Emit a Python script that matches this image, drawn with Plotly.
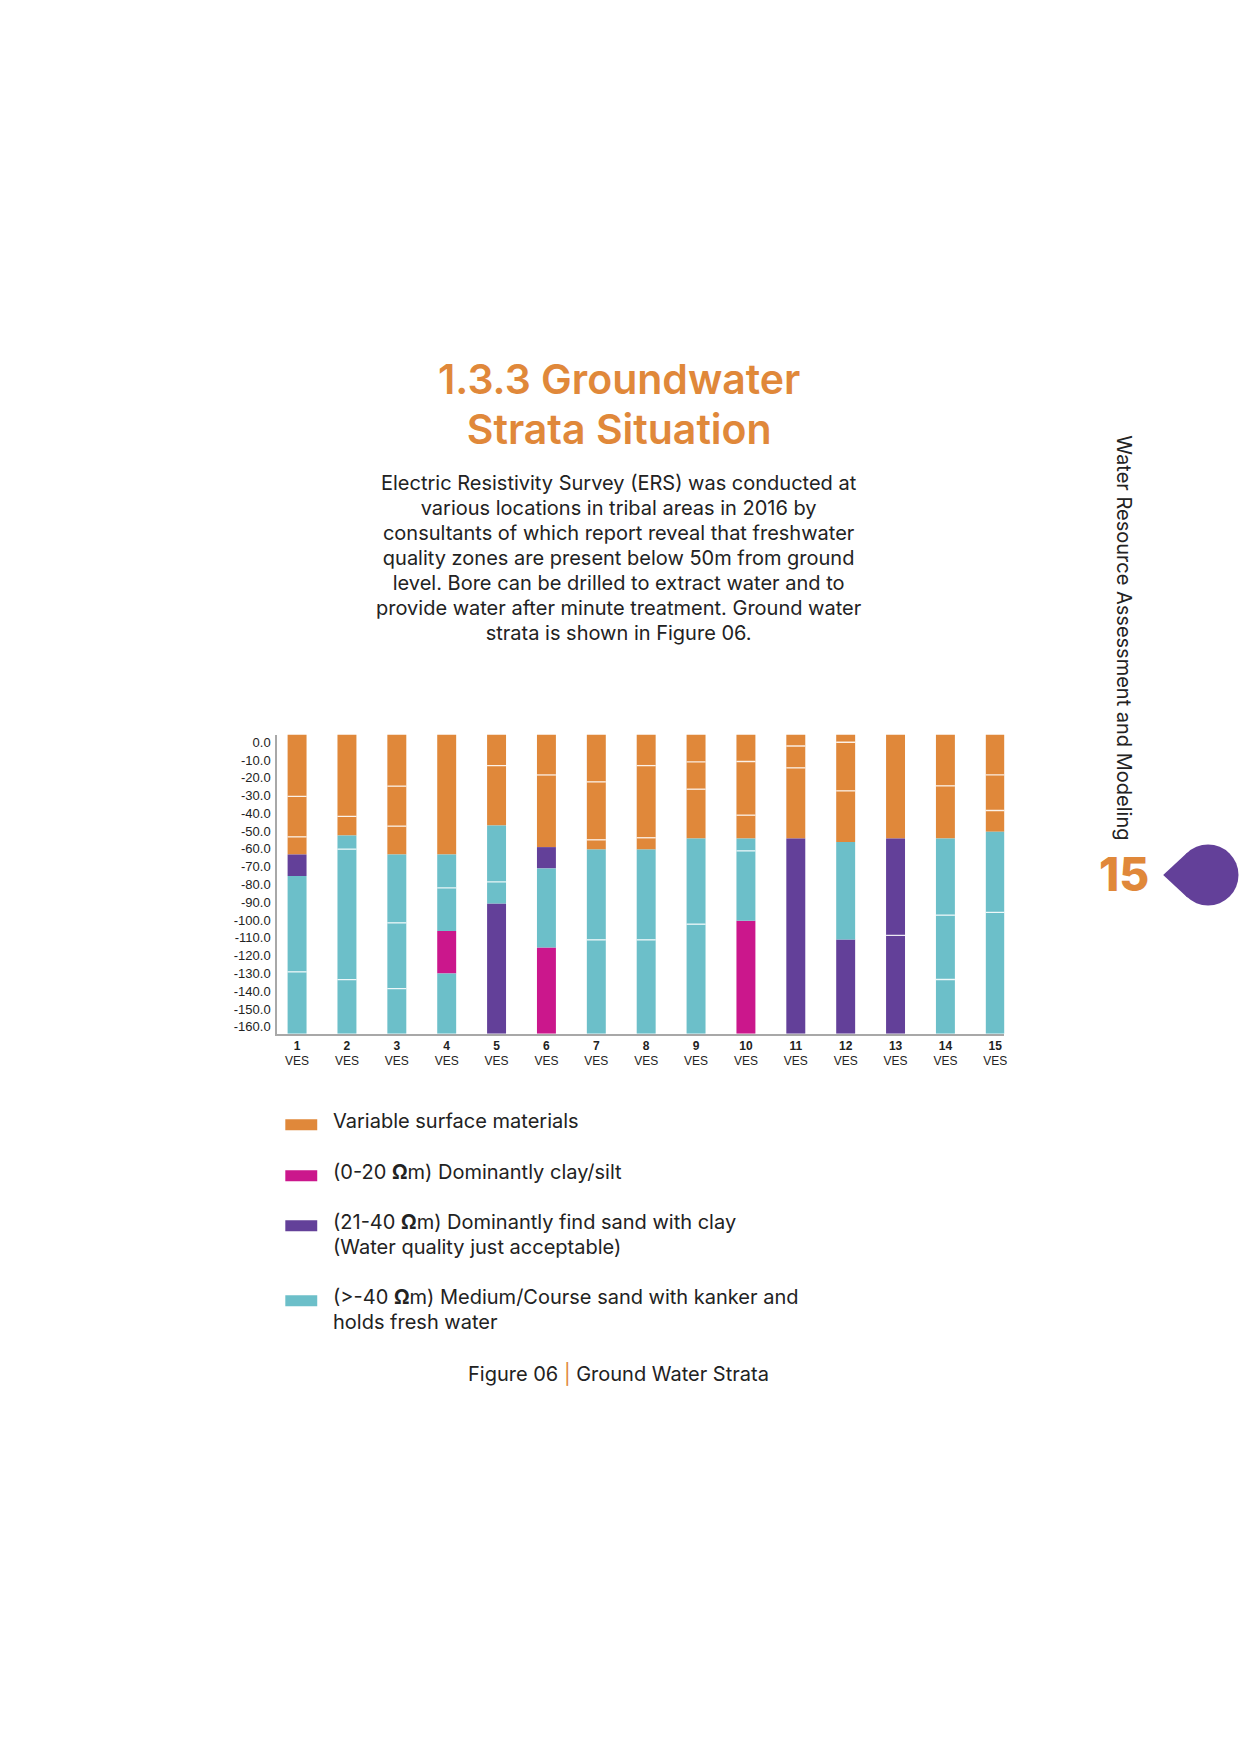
import plotly.graph_objects as go

W, H = 1241, 1754

# ---------------- data ----------------
ves_numbers = ["1", "2", "3", "4", "5", "6", "7", "8", "9", "10", "11", "12", "13", "14", "15"]
ves_suffix = "VES"

ytick_vals = [0, -10, -20, -30, -40, -50, -60, -70, -80, -90, -100, -110, -120, -130, -140, -150, -160]
ytick_text = ["0.0", "-10.0", "-20.0", "-30.0", "-40.0", "-50.0", "-60.0", "-70.0", "-80.0",
              "-90.0", "-100.0", "-110.0", "-120.0", "-130.0", "-140.0", "-150.0", "-160.0"]

# layer classes: S = surface, M = clay/silt, P = fine sand with clay, C = coarse sand fresh water
layer_classes = [
    ["S", "S", "S", "P", "C", "C"],
    ["S", "S", "C", "C", "C"],
    ["S", "S", "S", "C", "C", "C"],
    ["S", "C", "C", "M", "C"],
    ["S", "S", "C", "C", "P"],
    ["S", "S", "P", "C", "M"],
    ["S", "S", "S", "C", "C"],
    ["S", "S", "S", "C", "C"],
    ["S", "S", "S", "C", "C"],
    ["S", "S", "S", "C", "C", "M"],
    ["S", "S", "S", "P"],
    ["S", "S", "S", "C", "P"],
    ["S", "P", "P"],
    ["S", "S", "C", "C", "C"],
    ["S", "S", "S", "C", "C"],
]
layer_bottoms = [
    [-33.0, -54.7, -64.1, -75.7, -126.9, -160.0],
    [-43.8, -54.0, -61.3, -131.1, -160.0],
    [-27.6, -49.0, -64.1, -100.7, -135.9, -160.0],
    [-64.1, -82.0, -105.1, -127.8, -160.0],
    [-16.6, -48.6, -78.8, -90.3, -160.0],
    [-21.6, -60.2, -71.6, -113.9, -160.0],
    [-25.3, -56.3, -61.5, -109.8, -160.0],
    [-16.6, -55.2, -61.5, -109.8, -160.0],
    [-14.6, -29.2, -55.6, -101.4, -160.0],
    [-14.4, -43.1, -55.6, -62.2, -99.6, -160.0],
    [-6.1, -17.8, -55.6, -160.0],
    [-4.1, -30.1, -57.4, -109.6, -160.0],
    [-55.6, -107.4, -160.0],
    [-27.4, -55.6, -96.6, -131.0, -160.0],
    [-21.6, -40.6, -52.0, -95.1, -160.0],
]

class_order = ["S", "M", "P", "C"]
class_colors = {"S": "#E0883A", "M": "#CB178C", "P": "#634099", "C": "#6CBFC9"}
legend_lines = {
    "S": ["Variable surface materials"],
    "M": ["(0-20 <b>Ω</b>m) Dominantly clay/silt"],
    "P": ["(21-40 <b>Ω</b>m) Dominantly find sand with clay", "(Water quality just acceptable)"],
    "C": ["(>-40 <b>Ω</b>m) Medium/Course sand with kanker and", "holds fresh water"],
}

title_lines = ["1.3.3 Groundwater", "Strata Situation"]
para_lines = [
    "Electric Resistivity Survey (ERS) was conducted at",
    "various locations in tribal areas in 2016 by",
    "consultants of which report reveal that freshwater",
    "quality zones are present below 50m from ground",
    "level. Bore can be drilled to extract water and to",
    "provide water after minute treatment. Ground water",
    "strata is shown in Figure 06.",
]
side_text = "Water Resource Assessment and Modeling"
page_number = "15"
caption_left = "Figure 06"
caption_right = "Ground Water Strata"

ORANGE = "#E0883A"
TEXT = "#222222"
FONT = "Inter"
BAR_W = 0.38


def px(xp):
    return xp / W


def py(yp):
    return 1 - yp / H


def tight_lines(lines, size):
    # render lines at `size` px while the line pitch follows the annotation's base font size
    return "<br>".join(f"<span style='font-size:{size}px'>{ln}</span>" for ln in lines)


# ---------------- figure ----------------
fig = go.Figure()

for cls in class_order:
    xs, bases, heights = [], [], []
    for i, (classes, bottoms) in enumerate(zip(layer_classes, layer_bottoms)):
        top = 0.0
        for c, b in zip(classes, bottoms):
            if c == cls:
                xs.append(i)
                bases.append(top)
                heights.append(b - top)
            top = b
    fig.add_trace(go.Bar(x=xs, y=heights, base=bases, width=BAR_W,
                         marker=dict(color=class_colors[cls], line=dict(width=0)),
                         hoverinfo="skip", showlegend=False))

# thin white separators between consecutive layers of the same class
sx, sy = [], []
for i, (classes, bottoms) in enumerate(zip(layer_classes, layer_bottoms)):
    for k in range(len(classes) - 1):
        if classes[k] == classes[k + 1]:
            sx += [i - BAR_W / 2, i + BAR_W / 2, None]
            sy += [bottoms[k], bottoms[k], None]
fig.add_trace(go.Scatter(x=sx, y=sy, mode="lines",
                         line=dict(color="rgba(255,255,255,0.85)", width=1.3),
                         hoverinfo="skip", showlegend=False))

# dummy trace for tick-label axis
fig.add_trace(go.Scatter(x=[0], y=[0], yaxis="y2", mode="markers",
                         marker=dict(opacity=0), hoverinfo="skip", showlegend=False))

xt = [f"<b>{n}</b><br>{ves_suffix}" for n in ves_numbers]

fig.update_layout(
    width=W, height=H, margin=dict(l=0, r=0, t=0, b=0),
    paper_bgcolor="white", plot_bgcolor="white",
    barmode="overlay", showlegend=False,
    font=dict(family=FONT, color=TEXT),
    xaxis=dict(domain=[px(277.3), px(1006.7)], range=[-0.41, 14.18],
               tickvals=list(range(len(ves_numbers))), ticktext=xt,
               showline=True, linecolor="#a8a8a8", linewidth=1.5,
               showgrid=False, zeroline=False, ticks="",
               tickfont=dict(family="Liberation Sans", size=12, color=TEXT)),
    yaxis=dict(domain=[py(1034.3), py(735)], range=[-160, 0],
               showline=True, linecolor="#a8a8a8", linewidth=1.5,
               showticklabels=False, showgrid=False, zeroline=False, ticks=""),
    yaxis2=dict(overlaying="y", anchor="x", side="left", range=[-163.93, 4.31],
                tickvals=ytick_vals, ticktext=ytick_text,
                showline=False, showgrid=False, zeroline=False, ticks="",
                ticklabelstandoff=5,
                tickfont=dict(family="Liberation Sans", size=13, color=TEXT)),
)

annotations = []
shapes = []

# title (line pitch 50 px so the two line boxes do not collide)
TITLE_PITCH = 50
annotations.append(dict(text=tight_lines(title_lines, 41), x=px(620.5), y=py(404.5),
                        xref="paper", yref="paper", align="center",
                        xanchor="center", yanchor="middle", showarrow=False,
                        font=dict(family=FONT, size=TITLE_PITCH / 1.3, color=ORANGE, weight=600)))
# paragraph (line pitch 25 px)
n_para = len(para_lines)
annotations.append(dict(text=tight_lines(para_lines, 20), x=px(621), y=py(483.5 + 25 * (n_para - 1) / 2),
                        xref="paper", yref="paper", align="center",
                        xanchor="center", yanchor="middle", showarrow=False,
                        font=dict(family=FONT, size=25 / 1.3, color=TEXT)))

# legend
legend_y = {"S": 1122, "M": 1173, "P": 1223, "C": 1298}
for cls in class_order:
    y0 = legend_y[cls]
    n = len(legend_lines[cls])
    shapes.append(dict(type="rect", xref="paper", yref="paper",
                       x0=px(286), x1=px(318), y0=py(y0 - 2), y1=py(y0 + 9),
                       fillcolor=class_colors[cls], line=dict(width=0)))
    annotations.append(dict(text=tight_lines(legend_lines[cls], 20), x=px(332), y=py(y0 + 12.5 * (n - 1)),
                            xref="paper", yref="paper", align="left",
                            xanchor="left", yanchor="middle", showarrow=False,
                            font=dict(family=FONT, size=25 / 1.3, color=TEXT)))

# caption
annotations.append(dict(text=f"{caption_left} <span style='color:{ORANGE}'>|</span> {caption_right}",
                        x=px(620), y=py(1375), xref="paper", yref="paper",
                        xanchor="center", yanchor="middle", showarrow=False,
                        font=dict(family=FONT, size=20, color=TEXT)))

# side running header
annotations.append(dict(text=side_text, x=px(1127), y=py(638), xref="paper", yref="paper",
                        xanchor="center", yanchor="middle", showarrow=False, textangle=90,
                        font=dict(family=FONT, size=20, color=TEXT)))
annotations.append(dict(text=page_number, x=px(1127), y=py(874), xref="paper", yref="paper",
                        xanchor="center", yanchor="middle", showarrow=False,
                        font=dict(family=FONT, size=46, color=ORANGE, weight=800)))

# purple drop
cx, cy, r = 1211, 875.5, 30.5
shapes.append(dict(type="circle", xref="paper", yref="paper",
                   x0=px(cx - r), x1=px(cx + r), y0=py(cy + r), y1=py(cy - r),
                   fillcolor="#634099", line=dict(width=0)))
tpx, t1y, t2y, tx = 1166, cy - 22.4, cy + 22.4, 1190.3
shapes.append(dict(type="path", xref="paper", yref="paper",
                   path=f"M {px(tpx)} {py(cy)} L {px(tx)} {py(t1y)} L {px(cx)} {py(cy)} L {px(tx)} {py(t2y)} Z",
                   fillcolor="#634099", line=dict(width=0)))

fig.update_layout(annotations=annotations, shapes=shapes)

fig.write_html("out.html", config={"displayModeBar": False},
               post_script="document.body.style.margin='0';document.body.style.overflow='hidden';")
